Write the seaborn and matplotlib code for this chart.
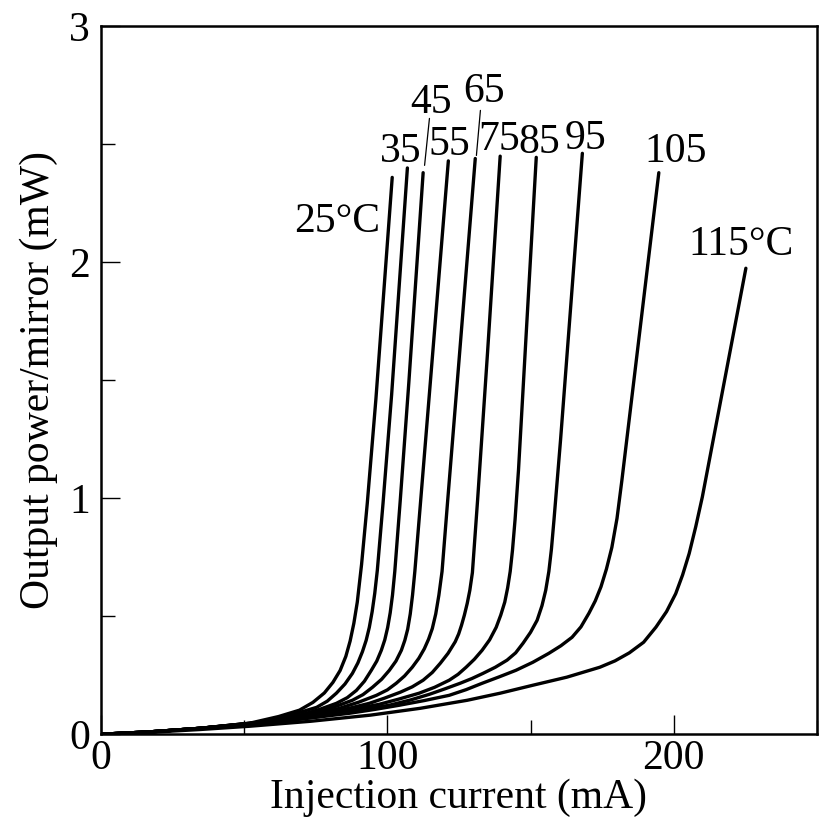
import matplotlib
matplotlib.use("Agg")
import matplotlib.pyplot as plt
import seaborn as sns
import pandas as pd
from matplotlib.ticker import MultipleLocator

# Light output per mirror vs. injection current at several heat-sink temperatures
temperatures = [25, 35, 45, 55, 65, 75, 85, 95, 105, 115]

current_25 = [0, 17, 34.5, 52, 62, 69.3, 74, 78, 81, 83.5, 85.5, 87, 88.3, 89.5, 91.0, 93.0, 96.0, 101.7]
power_25 = [0, 0.01, 0.025, 0.047, 0.075, 0.102, 0.135, 0.175, 0.220, 0.270, 0.330, 0.395, 0.47, 0.56,
            0.72, 0.98, 1.42, 2.36]

current_35 = [0, 17, 34.5, 55.4, 66, 75.3, 79, 82.2, 85.2, 87.8, 89.7, 91.3, 92.6, 93.7, 94.7, 95.6,
              96.5, 98.5, 101.5, 107.0]
power_35 = [0, 0.01, 0.025, 0.051, 0.080, 0.114, 0.140, 0.174, 0.213, 0.258, 0.302, 0.350, 0.398, 0.453,
            0.52, 0.597, 0.695, 0.98, 1.44, 2.40]

current_45 = [0, 17, 34.5, 55.4, 69.3, 76, 82.2, 86, 89.2, 92, 94.4, 96.3, 97.9, 99.1, 100.1, 101.0,
              101.8, 102.6, 104.5, 107.5, 112.5]
power_45 = [0, 0.01, 0.025, 0.047, 0.081, 0.104, 0.131, 0.155, 0.186, 0.225, 0.271, 0.31, 0.356, 0.40,
            0.452, 0.515, 0.59, 0.69, 0.99, 1.49, 2.38]

current_55 = [0, 17, 34.5, 58.9, 68, 76.3, 82, 87.8, 91.5, 94.8, 98, 100.7, 103, 104.9, 106.1, 107.1,
              108.0, 108.8, 109.6, 111.5, 115.0, 121.3]
power_55 = [0, 0.01, 0.025, 0.051, 0.071, 0.097, 0.118, 0.144, 0.168, 0.199, 0.233, 0.271, 0.31, 0.356,
            0.398, 0.445, 0.51, 0.59, 0.69, 0.97, 1.49, 2.43]

current_65 = [0, 17, 34.5, 51.9, 65.9, 75, 83.3, 90, 96.2, 100, 103.1, 106, 108.7, 111, 112.9, 114.4,
              115.7, 116.9, 118.0, 119.1, 121, 125, 130.7]
power_65 = [0, 0.01, 0.025, 0.042, 0.064, 0.085, 0.110, 0.136, 0.165, 0.188, 0.216, 0.247, 0.284, 0.322,
            0.362, 0.403, 0.448, 0.51, 0.59, 0.69, 0.98, 1.58, 2.44]

current_75 = [0, 17, 34.5, 45, 62.4, 71, 79.8, 87, 93.7, 99, 104.5, 108.7, 112.5, 115.7, 118.5, 121.2,
              123.7, 124.9, 125.9, 126.9, 127.9, 128.8, 129.7, 131.5, 135, 139.4]
power_75 = [0, 0.01, 0.025, 0.038, 0.059, 0.075, 0.093, 0.111, 0.131, 0.153, 0.178, 0.201, 0.229, 0.262,
            0.301, 0.343, 0.392, 0.425, 0.462, 0.505, 0.555, 0.61, 0.685, 0.99, 1.62, 2.45]

current_85 = [0, 17, 34.5, 52, 62.4, 71, 79.8, 88.5, 97.2, 104, 111.1, 116.5, 121.6, 124.7, 127.5, 130.4,
              133.1, 135.7, 138.0, 139.6, 141.0, 142.0, 142.9, 143.7, 144.6, 145.8, 148.5, 152.0]
power_85 = [0, 0.01, 0.025, 0.045, 0.059, 0.073, 0.089, 0.107, 0.127, 0.149, 0.174, 0.199, 0.229, 0.254,
            0.284, 0.318, 0.356, 0.40, 0.453, 0.505, 0.56, 0.62, 0.69, 0.78, 0.91, 1.12, 1.70, 2.445]

current_95 = [0, 17, 34.5, 52, 65.9, 75, 83.3, 92, 100.7, 108, 114.6, 120, 125.4, 129.5, 133.4, 137.7,
              141.8, 144.8, 147.4, 150.0, 152.3, 154.0, 155.3, 156.4, 157.3, 158.2, 160.5, 168.1]
power_95 = [0, 0.01, 0.025, 0.045, 0.059, 0.073, 0.089, 0.105, 0.123, 0.145, 0.169, 0.192, 0.216, 0.236,
            0.258, 0.284, 0.314, 0.345, 0.386, 0.432, 0.483, 0.545, 0.61, 0.69, 0.785, 0.91, 1.25, 2.462]

current_105 = [0, 17, 34.5, 52, 65.9, 76, 86.8, 95.5, 104.2, 113, 121.6, 127.5, 133.1, 139, 144.9, 150.8,
               156.4, 160.6, 164.5, 167.6, 170.4, 172.6, 174.6, 176.5, 178.4, 180.2, 181.9, 186.1, 194.8]
power_105 = [0, 0.01, 0.025, 0.045, 0.059, 0.073, 0.089, 0.105, 0.123, 0.143, 0.165, 0.189, 0.216, 0.243,
             0.271, 0.305, 0.343, 0.375, 0.411, 0.455, 0.513, 0.565, 0.625, 0.70, 0.792, 0.915, 1.076,
             1.5, 2.38]

current_115 = [0, 17, 34.5, 52, 73.2, 94.1, 111.5, 127.9, 139.4, 150.9, 162.7, 174.2, 179.5, 184.5,
               189.5, 193.8, 197.5, 200.7, 203.1, 205.4, 207.7, 210.0, 217.6, 225.2]
power_115 = [0, 0.008, 0.02, 0.034, 0.055, 0.081, 0.110, 0.144, 0.174, 0.208, 0.242, 0.284, 0.311, 0.345,
             0.39, 0.454, 0.52, 0.596, 0.675, 0.766, 0.88, 1.006, 1.49, 1.975]

curve_labels = ["25°C", "35", "45", "55", "65", "75", "85", "95", "105", "115°C"]
label_x = [82.6, 104.6, 115.1, 121.7, 133.9, 139.1, 153.1, 169.1, 200.5, 223.5]
label_y = [2.127, 2.424, 2.631, 2.453, 2.678, 2.475, 2.462, 2.48, 2.424, 2.030]

x_ticks = [0, 100, 200]
y_ticks = [0, 1, 2, 3]

currents = [current_25, current_35, current_45, current_55, current_65,
            current_75, current_85, current_95, current_105, current_115]
powers = [power_25, power_35, power_45, power_55, power_65,
          power_75, power_85, power_95, power_105, power_115]

frames = []
for t, cur, pw in zip(temperatures, currents, powers):
    frames.append(pd.DataFrame({"current": cur, "power": pw, "temp": t}))
df = pd.concat(frames, ignore_index=True)

sns.set_style("ticks")
plt.rcParams["font.family"] = ["Liberation Serif", "DejaVu Serif"]
plt.rcParams["text.color"] = "black"
plt.rcParams["axes.labelcolor"] = "black"
plt.rcParams["xtick.color"] = "black"
plt.rcParams["ytick.color"] = "black"

fig = plt.figure(figsize=(8.21, 8.25), dpi=100)
ax = fig.add_axes([0.123, 0.110, 0.872, 0.858])

sns.lineplot(data=df, x="current", y="power", units="temp", estimator=None,
             sort=False, color="black", linewidth=2.4, ax=ax, legend=False)

ax.set_xlim(0, 250)
ax.set_ylim(0, 3)
ax.set_xticks(x_ticks)
ax.set_yticks(y_ticks)
ax.xaxis.set_minor_locator(MultipleLocator(50))
ax.yaxis.set_minor_locator(MultipleLocator(0.5))
ax.tick_params(which="major", direction="in", length=14, width=1.0, labelsize=30,
               colors="black", pad=4)
ax.tick_params(which="minor", direction="in", length=10, width=1.0, colors="black")
ax.tick_params(axis="y", which="major", pad=8)

for side in ["left", "right", "top", "bottom"]:
    ax.spines[side].set_visible(True)
    ax.spines[side].set_linewidth(1.8)
    ax.spines[side].set_color("black")

ax.set_xlabel("Injection current (mA)", fontsize=30, labelpad=0, color="black")
ax.set_ylabel("Output power/mirror (mW)", fontsize=30, labelpad=8, color="black")

for text, tx, ty in zip(curve_labels, label_x, label_y):
    ax.text(tx, ty, text, fontsize=30, ha="center", va="baseline", color="black")

# short leader lines tying the crowded labels to their curves
ax.plot([114.7, 113.0], [2.610, 2.411], color="black", linewidth=0.9)
ax.plot([132.5, 131.1], [2.644, 2.453], color="black", linewidth=0.9)

fig.savefig("out.png", dpi=100)
